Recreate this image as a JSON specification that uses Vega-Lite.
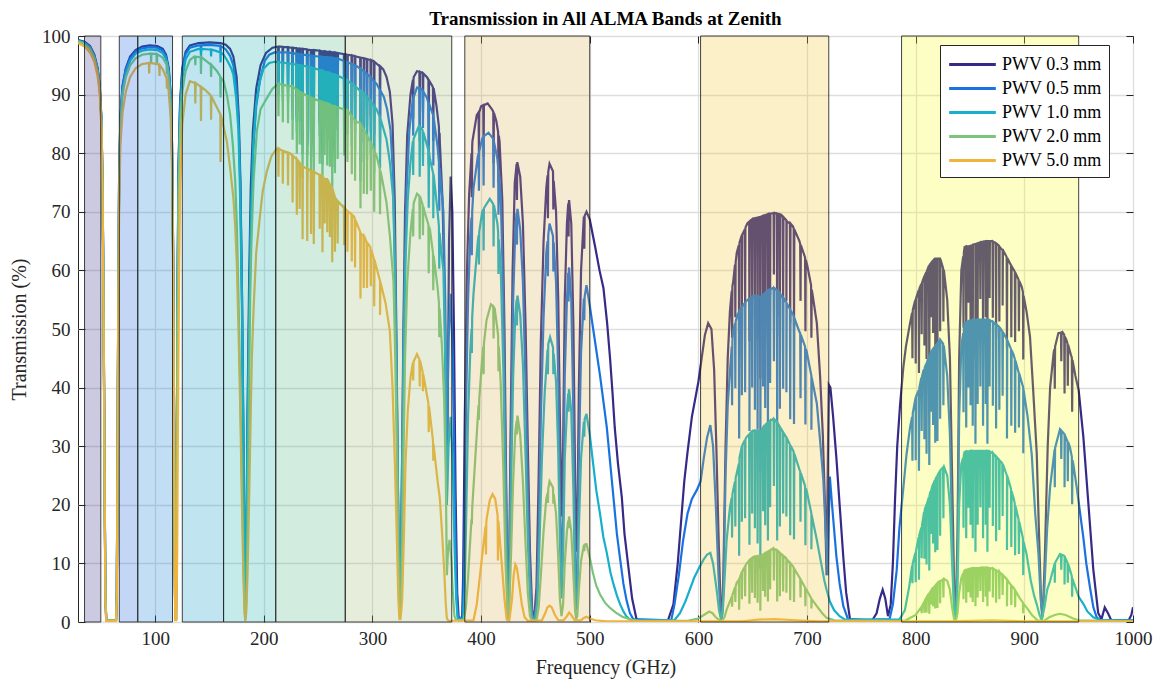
{
"$schema":"https://vega.github.io/schema/vega-lite/v6.json",
"width":1055,"height":586,
"autosize":{"type":"none"},
"padding":{"left":78,"top":36,"right":28,"bottom":63},
"title":{"text":"Transmission in All ALMA Bands at Zenith","font":"Liberation Serif","fontSize":19,"fontWeight":"bold","color":"black","offset":-2,"anchor":"middle"},
"config":{"view":{"stroke":"#262626","strokeWidth":1},"font":"Liberation Serif"},
"datasets":{
"bands":[{"b":"1","lo":35,"hi":50},{"b":"2","lo":67,"hi":84},{"b":"3","lo":84,"hi":116},{"b":"4","lo":125,"hi":163},{"b":"5","lo":163,"hi":211},{"b":"6","lo":211,"hi":275},{"b":"7","lo":275,"hi":373},{"b":"8","lo":385,"hi":500},{"b":"9","lo":602,"hi":720},{"b":"10","lo":787,"hi":950}],
"n03":[
{"f":29,"t":99.3},{"f":35,"t":99.0},{"f":40,"t":98.3},{"f":44,"t":96.8},{"f":47,"t":94.5},{"f":49,"t":91.5},{"f":50.5,"t":86},{"f":51.5,"t":76},{"f":52.3,"t":60},{"f":53,"t":40},{"f":53.7,"t":18},{"f":54.3,"t":4},{"f":55,"t":0.3},{"f":64,"t":0.3},{"f":64.7,"t":5},{"f":65.3,"t":25},{"f":66,"t":52},{"f":66.8,"t":75},{"f":68,"t":86},{"f":70,"t":91.5},{"f":73,"t":94.5},{"f":77,"t":96.5},{"f":82,"t":97.6},{"f":88,"t":98.2},{"f":95,"t":98.4},{"f":102,"t":98.3},{"f":107,"t":97.8},{"f":110,"t":96.8},{"f":112.5,"t":94.5},{"f":114.3,"t":90},{"f":115.5,"t":82},{"f":116.5,"t":65},{"f":117.3,"t":40},{"f":118,"t":12},{"f":118.5,"t":0.5},{"f":119.2,"t":0.5},{"f":119.8,"t":20},{"f":120.5,"t":55},{"f":121.5,"t":78},{"f":123,"t":89},{"f":125,"t":94.5},{"f":128,"t":97.3},{"f":132,"t":98.4},{"f":140,"t":98.8},{"f":150,"t":98.9},{"f":160,"t":98.8},{"f":165,"t":98.5},{"f":169,"t":97.8},{"f":172,"t":96.5},{"f":175,"t":93},{"f":177,"t":86},{"f":178.5,"t":75},{"f":180,"t":55},{"f":181.3,"t":30},{"f":182.3,"t":8},{"f":183,"t":1},{"f":183.8,"t":8},{"f":185,"t":35},{"f":186.5,"t":58},{"f":188,"t":74},{"f":190,"t":84},{"f":193,"t":91},{"f":197,"t":95},{"f":202,"t":97.1},{"f":208,"t":98},{"f":215,"t":98.2},{"f":225,"t":98.0},{"f":235,"t":97.8},{"f":245,"t":97.6},{"f":255,"t":97.4},{"f":265,"t":97.2},{"f":275,"t":96.9},{"f":285,"t":96.5},{"f":292,"t":96.2},{"f":300,"t":95.8},{"f":305,"t":95.1},{"f":310,"t":94.3},{"f":313,"t":93},{"f":316,"t":90.5},{"f":318.5,"t":85},{"f":320.5,"t":72},{"f":322,"t":50},{"f":323.5,"t":22},{"f":324.6,"t":4},{"f":325.2,"t":1},{"f":325.8,"t":4},{"f":327,"t":22},{"f":328.5,"t":50},{"f":330,"t":70},{"f":332,"t":83},{"f":335,"t":90},{"f":338,"t":93},{"f":341,"t":94},{"f":345,"t":93.8},{"f":350,"t":93},{"f":355,"t":91.5},{"f":359,"t":88},{"f":362,"t":82},{"f":364.5,"t":72},{"f":366.5,"t":55},{"f":367.8,"t":35},{"f":368.5,"t":20},{"f":369.2,"t":35},{"f":370.5,"t":65},{"f":372,"t":76},{"f":373.5,"t":70},{"f":375,"t":50},{"f":376.5,"t":22},{"f":378,"t":5},{"f":379.5,"t":0.3},{"f":382.5,"t":0.3},{"f":383.5,"t":8},{"f":385,"t":35},{"f":387,"t":60},{"f":389,"t":73},{"f":392,"t":82},{"f":396,"t":86.5},{"f":400,"t":88},{"f":406,"t":88.5},{"f":410,"t":87.5},{"f":414,"t":85.5},{"f":417,"t":82},{"f":419.5,"t":72},{"f":421.5,"t":50},{"f":423,"t":25},{"f":424.5,"t":3},{"f":425.5,"t":3},{"f":427,"t":30},{"f":429,"t":60},{"f":431,"t":75},{"f":433.5,"t":78.3},{"f":436,"t":76},{"f":438.5,"t":68},{"f":441,"t":50},{"f":443,"t":30},{"f":445,"t":12},{"f":447,"t":2},{"f":449,"t":1},{"f":451,"t":6},{"f":453,"t":25},{"f":455,"t":48},{"f":457.5,"t":65},{"f":460,"t":74},{"f":463,"t":78.2},{"f":466,"t":77},{"f":469,"t":70},{"f":471,"t":55},{"f":472.5,"t":35},{"f":474,"t":18},{"f":475.5,"t":30},{"f":477,"t":55},{"f":479,"t":68},{"f":481,"t":72},{"f":483,"t":68},{"f":485,"t":50},{"f":486.5,"t":25},{"f":487.5,"t":12},{"f":488.5,"t":15},{"f":490,"t":40},{"f":492,"t":60},{"f":494.5,"t":69},{"f":497,"t":70},{"f":500,"t":68.7},{"f":505,"t":64},{"f":509,"t":60},{"f":512.6,"t":57},{"f":516,"t":51},{"f":518.7,"t":45},{"f":521,"t":39},{"f":523,"t":33.2},{"f":526,"t":27},{"f":529.5,"t":21.3},{"f":532,"t":15},{"f":535.5,"t":9.5},{"f":539,"t":4},{"f":543,"t":0.5},{"f":547,"t":0.2},{"f":572,"t":0.3},{"f":577,"t":3},{"f":581,"t":10},{"f":584,"t":17},{"f":587,"t":24},{"f":590,"t":29},{"f":594,"t":35},{"f":598,"t":39},{"f":600,"t":41},{"f":603,"t":45},{"f":606,"t":49},{"f":609,"t":51},{"f":612,"t":50},{"f":614.5,"t":43},{"f":616.5,"t":30},{"f":618.5,"t":15},{"f":620.5,"t":2},{"f":621.5,"t":0.5},{"f":623,"t":8},{"f":625,"t":30},{"f":627,"t":45},{"f":629,"t":53},{"f":632,"t":58},{"f":635.3,"t":63},{"f":640,"t":66},{"f":645,"t":68},{"f":650,"t":68.8},{"f":655,"t":69},{"f":660,"t":69.3},{"f":665,"t":69.7},{"f":670,"t":69.8},{"f":676,"t":69.5},{"f":681,"t":68.5},{"f":687,"t":67.5},{"f":693,"t":65},{"f":700,"t":61},{"f":705,"t":56},{"f":709,"t":51},{"f":712,"t":42},{"f":714.5,"t":32},{"f":716.5,"t":20},{"f":718,"t":8},{"f":719,"t":25},{"f":720,"t":40.5},{"f":721.5,"t":40},{"f":724,"t":35},{"f":727,"t":28},{"f":730,"t":20},{"f":733.4,"t":11},{"f":736,"t":5},{"f":739.5,"t":0.5},{"f":760,"t":0.3},{"f":764,"t":1.5},{"f":767,"t":4},{"f":769.6,"t":5.5},{"f":772,"t":4},{"f":774.5,"t":1},{"f":777,"t":3},{"f":779,"t":10},{"f":781,"t":21},{"f":783,"t":30},{"f":785.6,"t":37},{"f":788.7,"t":43.6},{"f":791,"t":47},{"f":794.8,"t":51},{"f":799,"t":54.5},{"f":804,"t":57.2},{"f":808,"t":59},{"f":813,"t":61},{"f":818,"t":62},{"f":822.4,"t":62},{"f":826,"t":60},{"f":829,"t":55},{"f":831.5,"t":45},{"f":833.5,"t":25},{"f":835.5,"t":5},{"f":837,"t":2},{"f":838.5,"t":15},{"f":840,"t":45},{"f":842,"t":60},{"f":845,"t":64},{"f":850,"t":64.2},{"f":855,"t":64.5},{"f":860,"t":64.8},{"f":865,"t":65},{"f":870,"t":65},{"f":875,"t":64.5},{"f":880,"t":63.5},{"f":886.8,"t":61.2},{"f":892,"t":59.5},{"f":897.6,"t":57.2},{"f":902,"t":53},{"f":905.2,"t":48.7},{"f":908,"t":40},{"f":911.4,"t":28.8},{"f":913.5,"t":15},{"f":915.5,"t":3},{"f":917,"t":1},{"f":919,"t":12},{"f":921.5,"t":30},{"f":923.7,"t":40},{"f":927,"t":46},{"f":931.3,"t":49.3},{"f":935,"t":49.5},{"f":939,"t":48},{"f":943,"t":45.5},{"f":947,"t":42},{"f":950,"t":39.5},{"f":954.3,"t":31.6},{"f":958.9,"t":20.3},{"f":963.5,"t":8.9},{"f":968,"t":1.5},{"f":971,"t":0.5},{"f":974,"t":2.5},{"f":977,"t":1.5},{"f":980,"t":0.3},{"f":996,"t":0.3},{"f":998.5,"t":1.2},{"f":1000,"t":2.5},
{"f":213.2,"t":98.2},{"f":213.5,"t":92.3},{"f":213.8,"t":98.2},{"f":222,"t":98.1},{"f":222.3,"t":91.2},{"f":222.6,"t":98.1},{"f":230.1,"t":97.9},{"f":230.4,"t":86.2},{"f":230.7,"t":97.9},{"f":235.4,"t":97.8},{"f":235.7,"t":82.2},{"f":236,"t":97.8},{"f":239.7,"t":97.7},{"f":240,"t":82.1},{"f":240.3,"t":97.7},{"f":245.7,"t":97.6},{"f":246,"t":82},{"f":246.3,"t":97.6},{"f":253.7,"t":97.4},{"f":254,"t":80.8},{"f":254.3,"t":97.4},{"f":258.1,"t":97.3},{"f":258.4,"t":85.6},{"f":258.7,"t":97.3},{"f":262.7,"t":97.2},{"f":263,"t":80.7},{"f":263.3,"t":97.2},{"f":267.7,"t":97.1},{"f":268,"t":87.4},{"f":268.3,"t":97.1},{"f":273.7,"t":96.9},{"f":274,"t":88.2},{"f":274.3,"t":96.9},{"f":280.7,"t":96.7},{"f":281,"t":85.6},{"f":281.3,"t":96.7},{"f":288.7,"t":96.3},{"f":289,"t":79.9},{"f":289.3,"t":96.3},{"f":291.7,"t":96.2},{"f":292,"t":83.7},{"f":292.3,"t":96.2},{"f":301.3,"t":95.6},{"f":301.6,"t":83.2},{"f":301.9,"t":95.6},{"f":306.7,"t":94.8},{"f":307,"t":85.3},{"f":307.3,"t":94.8},
{"f":217.2,"t":98.15},{"f":217.5,"t":91.3},{"f":217.8,"t":98.15},{"f":226.2,"t":98},{"f":226.5,"t":88.2},{"f":226.8,"t":98},{"f":232.7,"t":97.85},{"f":233,"t":88.1},{"f":233.3,"t":97.85},{"f":243.2,"t":97.6},{"f":243.5,"t":83.9},{"f":243.8,"t":97.6},{"f":251.2,"t":97.5},{"f":251.5,"t":85.8},{"f":251.8,"t":97.5},{"f":255.7,"t":97.4},{"f":256,"t":87.7},{"f":256.3,"t":97.4},{"f":260.5,"t":97.3},{"f":260.8,"t":85.6},{"f":261.1,"t":97.3},{"f":265.2,"t":97.2},{"f":265.5,"t":84.6},{"f":265.8,"t":97.2},{"f":276.7,"t":96.8},{"f":277,"t":87.1},{"f":277.3,"t":96.8},{"f":283.7,"t":96.55},{"f":284,"t":85},{"f":284.3,"t":96.55},{"f":294.7,"t":96.05},{"f":295,"t":84.5},{"f":295.3,"t":96.05},{"f":298.2,"t":95.9},{"f":298.5,"t":86.3},{"f":298.8,"t":95.9},
{"f":337.2,"t":92.5},{"f":337.5,"t":86},{"f":337.8,"t":92.6},{"f":343.2,"t":93.9},{"f":343.5,"t":84.5},{"f":343.8,"t":93.9},{"f":346.2,"t":93.6},{"f":346.5,"t":87},{"f":346.8,"t":93.6},{"f":351.5,"t":92.5},{"f":351.8,"t":81.4},{"f":352.1,"t":92.4},{"f":355.7,"t":91.2},{"f":356,"t":82.1},{"f":356.3,"t":91.1},{"f":361.2,"t":84.5},{"f":361.5,"t":75.6},{"f":361.8,"t":83.5},
{"f":391.2,"t":80},{"f":391.5,"t":72.5},{"f":391.8,"t":81},{"f":397.7,"t":87},{"f":398,"t":80},{"f":398.3,"t":87},{"f":402,"t":88.2},{"f":402.3,"t":79.4},{"f":402.6,"t":88.2},{"f":411.2,"t":87.1},{"f":411.5,"t":78.3},{"f":411.8,"t":86.9},{"f":415.7,"t":83.6},{"f":416,"t":75},{"f":416.3,"t":83},{"f":432.7,"t":78.2},{"f":433,"t":72},{"f":433.3,"t":78.3},{"f":461.2,"t":76.2},{"f":461.5,"t":68.9},{"f":461.8,"t":76.8},{"f":466.2,"t":76.8},{"f":466.5,"t":70.4},{"f":466.8,"t":75.3},{"f":480.2,"t":71.4},{"f":480.5,"t":65.8},{"f":480.8,"t":71.6},{"f":494.7,"t":69},{"f":495,"t":63.7},{"f":495.3,"t":69.3},
{"f":630.7,"t":56.5},{"f":631,"t":48.5},{"f":631.3,"t":57.3},{"f":637.2,"t":64.3},{"f":637.5,"t":45.2},{"f":637.8,"t":64.7},{"f":642.7,"t":67},{"f":643,"t":53.8},{"f":643.3,"t":67.3},{"f":646.7,"t":68.3},{"f":647,"t":47.9},{"f":647.3,"t":68.4},{"f":651.7,"t":68.9},{"f":652,"t":51.7},{"f":652.3,"t":68.9},{"f":656.7,"t":69.1},{"f":657,"t":41.5},{"f":657.3,"t":69.1},{"f":661.2,"t":69.4},{"f":661.5,"t":52},{"f":661.8,"t":69.4},{"f":665.7,"t":69.7},{"f":666,"t":55.8},{"f":666.3,"t":69.7},{"f":672.2,"t":69.7},{"f":672.5,"t":48.8},{"f":672.8,"t":69.7},{"f":677.7,"t":69.1},{"f":678,"t":55.3},{"f":678.3,"t":69.1},{"f":684.2,"t":68},{"f":684.5,"t":51},{"f":684.8,"t":68},{"f":693.7,"t":64.5},{"f":694,"t":54.8},{"f":694.3,"t":64.3},{"f":703.7,"t":57.5},{"f":704,"t":48.5},{"f":704.3,"t":56.7},
{"f":633.7,"t":61},{"f":634,"t":52},{"f":634.3,"t":61.4},{"f":639.7,"t":65.9},{"f":640,"t":52.8},{"f":640.3,"t":66.1},{"f":649.2,"t":68.7},{"f":649.5,"t":55},{"f":649.8,"t":68.7},{"f":654.2,"t":69},{"f":654.5,"t":48.3},{"f":654.8,"t":69},{"f":659.2,"t":69.3},{"f":659.5,"t":55.4},{"f":659.8,"t":69.3},{"f":663.7,"t":69.6},{"f":664,"t":48.7},{"f":664.3,"t":69.6},{"f":669.2,"t":69.8},{"f":669.5,"t":59.3},{"f":669.8,"t":69.8},{"f":674.7,"t":69.55},{"f":675,"t":52.2},{"f":675.3,"t":69.55},{"f":680.7,"t":68.6},{"f":681,"t":54.8},{"f":681.3,"t":68.4},{"f":687.7,"t":67.2},{"f":688,"t":50.3},{"f":688.3,"t":67},{"f":698.2,"t":62.2},{"f":698.5,"t":49.6},{"f":698.8,"t":61.8},
{"f":796.7,"t":52.8},{"f":797,"t":45},{"f":797.3,"t":53.2},{"f":802.7,"t":56.6},{"f":803,"t":42.5},{"f":803.3,"t":56.8},{"f":807.7,"t":58.9},{"f":808,"t":47.2},{"f":808.3,"t":59.1},{"f":812.2,"t":60.8},{"f":812.5,"t":42.6},{"f":812.8,"t":60.9},{"f":815.7,"t":61.6},{"f":816,"t":49.3},{"f":816.3,"t":61.7},{"f":819.7,"t":62},{"f":820,"t":46.5},{"f":820.3,"t":62},{"f":825.2,"t":60.4},{"f":825.5,"t":51.3},{"f":825.8,"t":60.1},{"f":846.2,"t":64.1},{"f":846.5,"t":48.1},{"f":846.8,"t":64.1},{"f":850.2,"t":64.2},{"f":850.5,"t":51.4},{"f":850.8,"t":64.2},{"f":854.7,"t":64.5},{"f":855,"t":45.2},{"f":855.3,"t":64.5},{"f":859.2,"t":64.8},{"f":859.5,"t":55.1},{"f":859.8,"t":64.8},{"f":861.7,"t":64.9},{"f":862,"t":48.7},{"f":862.3,"t":64.9},{"f":867.7,"t":65},{"f":868,"t":55.3},{"f":868.3,"t":65},{"f":873.7,"t":64.6},{"f":874,"t":48.5},{"f":874.3,"t":64.6},{"f":879.7,"t":63.5},{"f":880,"t":54},{"f":880.3,"t":63.5},{"f":887.7,"t":60.9},{"f":888,"t":48.6},{"f":888.3,"t":60.7},{"f":894.7,"t":58.4},{"f":895,"t":49.6},{"f":895.3,"t":58.2},{"f":933.7,"t":49.4},{"f":934,"t":44.5},{"f":934.3,"t":49.4},{"f":939.7,"t":47.5},{"f":940,"t":40.3},{"f":940.3,"t":47.3},
{"f":799.7,"t":55},{"f":800,"t":44.1},{"f":800.3,"t":55.2},{"f":805.2,"t":57.7},{"f":805.5,"t":49.1},{"f":805.8,"t":57.9},{"f":809.7,"t":59.7},{"f":810,"t":44.9},{"f":810.3,"t":59.9},{"f":813.7,"t":61.1},{"f":814,"t":52},{"f":814.3,"t":61.3},{"f":817.7,"t":62},{"f":818,"t":46.5},{"f":818.3,"t":62},{"f":822.2,"t":62},{"f":822.5,"t":49.6},{"f":822.8,"t":61.9},{"f":843.7,"t":62.4},{"f":844,"t":50.2},{"f":844.3,"t":63},{"f":848.2,"t":64.1},{"f":848.5,"t":54.5},{"f":848.8,"t":64.1},{"f":852.2,"t":64.3},{"f":852.5,"t":48.3},{"f":852.8,"t":64.4},{"f":856.7,"t":64.6},{"f":857,"t":51.7},{"f":857.3,"t":64.6},{"f":864.2,"t":65},{"f":864.5,"t":52},{"f":864.8,"t":65},{"f":865.7,"t":65},{"f":866,"t":45.5},{"f":866.3,"t":65},{"f":870.7,"t":64.9},{"f":871,"t":51.9},{"f":871.3,"t":64.9},{"f":876.7,"t":64.2},{"f":877,"t":51.3},{"f":877.3,"t":64},{"f":883.7,"t":62.3},{"f":884,"t":46.7},{"f":884.3,"t":62.1},{"f":891.2,"t":59.8},{"f":891.5,"t":47.8},{"f":891.8,"t":59.6},{"f":898.7,"t":56.3},{"f":899,"t":44.8},{"f":899.3,"t":55.7},{"f":927.7,"t":46.6},{"f":928,"t":39.8},{"f":928.3,"t":47},{"f":936.7,"t":49},{"f":937,"t":39},{"f":937.3,"t":48.7},{"f":943.7,"t":45.1},{"f":944,"t":35.9},{"f":944.3,"t":44.7}
],
"n05":[
{"f":29,"t":99.3},{"f":35,"t":98.9},{"f":40,"t":98.2},{"f":44,"t":96.7},{"f":47,"t":94.4},{"f":49,"t":91.4},{"f":50.5,"t":86},{"f":51.5,"t":76},{"f":52.3,"t":60},{"f":53,"t":40},{"f":53.7,"t":18},{"f":54.3,"t":4},{"f":55,"t":0.3},{"f":64,"t":0.3},{"f":64.7,"t":5},{"f":65.3,"t":25},{"f":66,"t":52},{"f":66.8,"t":75},{"f":68,"t":86},{"f":70,"t":91.3},{"f":73,"t":94.3},{"f":77,"t":96.2},{"f":82,"t":97.4},{"f":88,"t":97.9},{"f":95,"t":98.1},{"f":102,"t":98},{"f":107,"t":97.5},{"f":110,"t":96.5},{"f":112.5,"t":94.2},{"f":114.3,"t":89.7},{"f":115.5,"t":81.5},{"f":116.5,"t":64},{"f":117.3,"t":39},{"f":118,"t":12},{"f":118.5,"t":0.5},{"f":119.2,"t":0.5},{"f":119.8,"t":20},{"f":120.5,"t":54},{"f":121.5,"t":77},{"f":123,"t":88.5},{"f":125,"t":94},{"f":128,"t":96.9},{"f":132,"t":98},{"f":140,"t":98.4},{"f":150,"t":98.5},{"f":160,"t":98.3},{"f":165,"t":97.7},{"f":169,"t":96.6},{"f":172,"t":95},{"f":174.5,"t":91.5},{"f":176.7,"t":86},{"f":178.3,"t":75},{"f":179.8,"t":58},{"f":181.2,"t":32},{"f":182.3,"t":10},{"f":183,"t":1},{"f":183.8,"t":10},{"f":185,"t":32},{"f":186.5,"t":53},{"f":188,"t":69},{"f":190,"t":80},{"f":193,"t":88},{"f":197,"t":93},{"f":201,"t":95.8},{"f":205,"t":96.8},{"f":210,"t":97.2},{"f":220,"t":97.2},{"f":236,"t":96.8},{"f":250,"t":96.5},{"f":267,"t":96.2},{"f":276,"t":95.6},{"f":286,"t":94.8},{"f":292,"t":94},{"f":298,"t":93},{"f":304,"t":91.8},{"f":310.5,"t":89.6},{"f":313.5,"t":87.5},{"f":316.6,"t":84},{"f":319,"t":76},{"f":321,"t":58},{"f":322.5,"t":38},{"f":324,"t":14},{"f":325.2,"t":2},{"f":326.4,"t":14},{"f":328,"t":38},{"f":329.5,"t":58},{"f":331.5,"t":74},{"f":334,"t":84},{"f":337,"t":89},{"f":341,"t":91.2},{"f":345,"t":91},{"f":350,"t":89.5},{"f":356,"t":86.5},{"f":360,"t":81},{"f":363,"t":75},{"f":365.3,"t":70},{"f":367,"t":55},{"f":368.5,"t":30},{"f":370,"t":48},{"f":372,"t":56},{"f":374,"t":45},{"f":375.5,"t":25},{"f":377,"t":8},{"f":378.5,"t":1},{"f":383,"t":0.5},{"f":384.5,"t":10},{"f":386,"t":35},{"f":388,"t":55},{"f":390,"t":66},{"f":393,"t":74},{"f":397,"t":79.5},{"f":401,"t":82.5},{"f":406.8,"t":83.5},{"f":411,"t":82.5},{"f":415,"t":79},{"f":418,"t":73},{"f":420.5,"t":55},{"f":422.5,"t":28},{"f":424.5,"t":2},{"f":425.5,"t":2},{"f":427.5,"t":30},{"f":429.5,"t":55},{"f":431.5,"t":67},{"f":433.5,"t":70.5},{"f":436,"t":67},{"f":438.5,"t":58},{"f":441,"t":40},{"f":443,"t":22},{"f":445,"t":8},{"f":447,"t":1},{"f":449,"t":0.5},{"f":451,"t":3},{"f":453,"t":15},{"f":455,"t":35},{"f":457.5,"t":52},{"f":460,"t":63},{"f":463,"t":68},{"f":466,"t":66},{"f":469,"t":58},{"f":471,"t":42},{"f":472.5,"t":22},{"f":474,"t":8},{"f":475.5,"t":18},{"f":477,"t":42},{"f":479,"t":55},{"f":481,"t":60.5},{"f":483,"t":55},{"f":485,"t":35},{"f":486.5,"t":12},{"f":487.5,"t":4},{"f":488.5,"t":6},{"f":490,"t":28},{"f":492,"t":46},{"f":494.5,"t":55},{"f":497,"t":57.5},{"f":500,"t":54},{"f":503.4,"t":49.7},{"f":509.5,"t":42},{"f":515.7,"t":33.2},{"f":521.8,"t":21.3},{"f":525,"t":15},{"f":528,"t":10.7},{"f":531,"t":6.5},{"f":534,"t":3.6},{"f":537,"t":1.5},{"f":540,"t":0.5},{"f":575,"t":0.3},{"f":578,"t":3},{"f":582,"t":8},{"f":586,"t":14},{"f":590,"t":18.5},{"f":594,"t":21},{"f":598.5,"t":22.5},{"f":602,"t":24},{"f":605,"t":28},{"f":608,"t":31.5},{"f":611,"t":33.6},{"f":613.5,"t":30},{"f":616,"t":20},{"f":618.5,"t":8},{"f":620.5,"t":1},{"f":621.7,"t":0.5},{"f":623,"t":5},{"f":625,"t":25},{"f":627,"t":37},{"f":629.5,"t":44},{"f":632,"t":49.7},{"f":636,"t":52.5},{"f":641.4,"t":54.2},{"f":647,"t":55.2},{"f":652,"t":55.7},{"f":657,"t":55.5},{"f":662,"t":56.2},{"f":669,"t":57.1},{"f":675,"t":56},{"f":681,"t":54.5},{"f":687,"t":52.5},{"f":693,"t":49.5},{"f":699.5,"t":46.3},{"f":704,"t":42},{"f":709,"t":37.3},{"f":712,"t":31},{"f":715,"t":24.2},{"f":717.5,"t":14},{"f":719,"t":8},{"f":720,"t":18},{"f":721,"t":24.8},{"f":723,"t":20},{"f":727,"t":11.2},{"f":730,"t":6.5},{"f":733.4,"t":2.7},{"f":738,"t":0.3},{"f":776,"t":0.5},{"f":779,"t":3},{"f":782.5,"t":8.8},{"f":785,"t":16},{"f":788.7,"t":23},{"f":791.5,"t":28.5},{"f":794.8,"t":33.2},{"f":800,"t":38.3},{"f":807,"t":42.8},{"f":814,"t":46},{"f":822.4,"t":48.2},{"f":826,"t":47},{"f":829,"t":42},{"f":831.5,"t":32},{"f":833.5,"t":15},{"f":835.5,"t":2},{"f":837,"t":1},{"f":838.5,"t":10},{"f":840,"t":35},{"f":842,"t":47},{"f":845,"t":51},{"f":853,"t":51.6},{"f":865.3,"t":51.6},{"f":871,"t":51.2},{"f":877.6,"t":50.2},{"f":884,"t":48.2},{"f":889.9,"t":45.7},{"f":895,"t":42.5},{"f":899,"t":40},{"f":903,"t":35},{"f":906.8,"t":28.6},{"f":910,"t":18.5},{"f":913,"t":11.6},{"f":915,"t":4},{"f":916.5,"t":0.8},{"f":918.5,"t":6},{"f":921,"t":16},{"f":923.7,"t":23},{"f":928,"t":29.5},{"f":932.8,"t":32.9},{"f":937,"t":32},{"f":942,"t":29.8},{"f":945,"t":27},{"f":948.2,"t":23},{"f":951,"t":19},{"f":954.3,"t":14.4},{"f":957,"t":10},{"f":960.4,"t":5.9},{"f":963.5,"t":2.5},{"f":966.6,"t":0.8},{"f":970,"t":0.3},{"f":1000,"t":0.3},
{"f":141.9,"t":98.4},{"f":142.2,"t":97.3},{"f":142.5,"t":98.4},{"f":159.9,"t":98.3},{"f":160.2,"t":97.2},{"f":160.5,"t":98.3},
{"f":213.2,"t":97.2},{"f":213.5,"t":91.4},{"f":213.8,"t":97.2},{"f":222,"t":97.2},{"f":222.3,"t":90.4},{"f":222.6,"t":97.2},{"f":230.1,"t":97},{"f":230.4,"t":85.4},{"f":230.7,"t":97},{"f":235.4,"t":96.8},{"f":235.7,"t":81.3},{"f":236,"t":96.8},{"f":239.7,"t":96.75},{"f":240,"t":81.3},{"f":240.3,"t":96.75},{"f":245.7,"t":96.6},{"f":246,"t":81.1},{"f":246.3,"t":96.6},{"f":253.7,"t":96.45},{"f":254,"t":80.1},{"f":254.3,"t":96.45},{"f":258.1,"t":96.4},{"f":258.4,"t":84.8},{"f":258.7,"t":96.4},{"f":262.7,"t":96.3},{"f":263,"t":79.9},{"f":263.3,"t":96.3},{"f":267.7,"t":96.15},{"f":268,"t":86.5},{"f":268.3,"t":96.15},{"f":273.7,"t":95.75},{"f":274,"t":87.1},{"f":274.3,"t":95.7},{"f":280.7,"t":95.2},{"f":281,"t":84.3},{"f":281.3,"t":95.2},{"f":288.7,"t":94.4},{"f":289,"t":78.4},{"f":289.3,"t":94.4},{"f":291.7,"t":94},{"f":292,"t":81.8},{"f":292.3,"t":94},{"f":301.3,"t":92.3},{"f":301.6,"t":80.3},{"f":301.9,"t":92.2},{"f":306.7,"t":90.8},{"f":307,"t":81.7},{"f":307.3,"t":90.7},
{"f":217.2,"t":97.2},{"f":217.5,"t":90.4},{"f":217.8,"t":97.2},{"f":226.2,"t":97.05},{"f":226.5,"t":87.3},{"f":226.8,"t":97.05},{"f":232.7,"t":96.9},{"f":233,"t":87.2},{"f":233.3,"t":96.9},{"f":243.2,"t":96.65},{"f":243.5,"t":83.1},{"f":243.8,"t":96.65},{"f":251.2,"t":96.5},{"f":251.5,"t":84.9},{"f":251.8,"t":96.5},{"f":255.7,"t":96.4},{"f":256,"t":86.8},{"f":256.3,"t":96.4},{"f":260.5,"t":96.35},{"f":260.8,"t":84.8},{"f":261.1,"t":96.35},{"f":265.2,"t":96.2},{"f":265.5,"t":83.7},{"f":265.8,"t":96.2},{"f":276.7,"t":95.5},{"f":277,"t":86},{"f":277.3,"t":95.5},{"f":283.7,"t":94.95},{"f":284,"t":83.6},{"f":284.3,"t":94.95},{"f":294.7,"t":93.5},{"f":295,"t":82.3},{"f":295.3,"t":93.5},{"f":298.2,"t":92.9},{"f":298.5,"t":83.6},{"f":298.8,"t":92.9},
{"f":337.2,"t":89.2},{"f":337.5,"t":83},{"f":337.8,"t":89.5},{"f":343.2,"t":91.1},{"f":343.5,"t":82},{"f":343.8,"t":91.1},{"f":346.2,"t":90.6},{"f":346.5,"t":84.3},{"f":346.8,"t":90.5},{"f":351.5,"t":88.6},{"f":351.8,"t":78},{"f":352.1,"t":88.5},{"f":355.7,"t":86.6},{"f":356,"t":77.9},{"f":356.3,"t":86.2},{"f":361.2,"t":78.5},{"f":361.5,"t":70.2},{"f":361.8,"t":77.5},
{"f":391.2,"t":69},{"f":391.5,"t":62.6},{"f":391.8,"t":70},{"f":397.7,"t":80},{"f":398,"t":73.6},{"f":398.3,"t":80.3},{"f":402,"t":82.8},{"f":402.3,"t":74.5},{"f":402.6,"t":82.9},{"f":411.2,"t":82.3},{"f":411.5,"t":74.1},{"f":411.8,"t":82},{"f":415.7,"t":77.6},{"f":416,"t":69.5},{"f":416.3,"t":76.6},{"f":432.7,"t":69.9},{"f":433,"t":64.4},{"f":433.3,"t":70.3},{"f":461.2,"t":65},{"f":461.5,"t":59},{"f":461.8,"t":66},{"f":466.2,"t":65.8},{"f":466.5,"t":59.8},{"f":466.8,"t":64.8},{"f":480.2,"t":59.6},{"f":480.5,"t":54.7},{"f":480.8,"t":60.3},{"f":494.7,"t":55},{"f":495,"t":51.5},{"f":495.3,"t":55.5},
{"f":630.7,"t":47},{"f":631,"t":37},{"f":631.3,"t":48},{"f":637.2,"t":52.8},{"f":637.5,"t":31.3},{"f":637.8,"t":53.2},{"f":642.7,"t":54.4},{"f":643,"t":39.2},{"f":643.3,"t":54.6},{"f":646.7,"t":55.2},{"f":647,"t":32.6},{"f":647.3,"t":55.2},{"f":651.7,"t":55.7},{"f":652,"t":36.2},{"f":652.3,"t":55.7},{"f":656.7,"t":55.5},{"f":657,"t":25.5},{"f":657.3,"t":55.5},{"f":661.2,"t":56.1},{"f":661.5,"t":36.5},{"f":661.8,"t":56.2},{"f":665.7,"t":56.7},{"f":666,"t":40.8},{"f":666.3,"t":56.7},{"f":672.2,"t":56.6},{"f":672.5,"t":33.3},{"f":672.8,"t":56.5},{"f":677.7,"t":55.3},{"f":678,"t":39.8},{"f":678.3,"t":55.3},{"f":684.2,"t":53.4},{"f":684.5,"t":34.6},{"f":684.8,"t":53.2},{"f":693.7,"t":49.3},{"f":694,"t":38.2},{"f":694.3,"t":49},{"f":703.7,"t":42.3},{"f":704,"t":32.8},{"f":704.3,"t":41.7},
{"f":633.7,"t":51},{"f":634,"t":39.9},{"f":634.3,"t":51.3},{"f":639.7,"t":53.6},{"f":640,"t":38.7},{"f":640.3,"t":53.8},{"f":649.2,"t":55.5},{"f":649.5,"t":40},{"f":649.8,"t":55.5},{"f":654.2,"t":55.6},{"f":654.5,"t":32.8},{"f":654.8,"t":55.6},{"f":659.2,"t":55.8},{"f":659.5,"t":40.2},{"f":659.8,"t":55.8},{"f":663.7,"t":56.5},{"f":664,"t":33.3},{"f":664.3,"t":56.5},{"f":669.2,"t":57},{"f":669.5,"t":44.5},{"f":669.8,"t":57},{"f":674.7,"t":56},{"f":675,"t":36.4},{"f":675.3,"t":56},{"f":680.7,"t":54.6},{"f":681,"t":39.2},{"f":681.3,"t":54.4},{"f":687.7,"t":52.2},{"f":688,"t":33.8},{"f":688.3,"t":51.9},{"f":698.2,"t":47},{"f":698.5,"t":33.7},{"f":698.8,"t":46.6},
{"f":796.7,"t":35},{"f":797,"t":27.5},{"f":797.3,"t":35.6},{"f":802.7,"t":39.5},{"f":803,"t":25.8},{"f":803.3,"t":39.9},{"f":807.7,"t":43.1},{"f":808,"t":31.2},{"f":808.3,"t":43.4},{"f":812.2,"t":45.3},{"f":812.5,"t":26.8},{"f":812.8,"t":45.5},{"f":815.7,"t":46.5},{"f":816,"t":33.6},{"f":816.3,"t":46.7},{"f":819.7,"t":47.5},{"f":820,"t":30.9},{"f":820.3,"t":47.6},{"f":825.2,"t":47.5},{"f":825.5,"t":37},{"f":825.8,"t":47.2},{"f":846.2,"t":51.1},{"f":846.5,"t":33.2},{"f":846.8,"t":51.1},{"f":850.2,"t":51.4},{"f":850.5,"t":37},{"f":850.8,"t":51.4},{"f":854.7,"t":51.6},{"f":855,"t":30.4},{"f":855.3,"t":51.6},{"f":859.2,"t":51.6},{"f":859.5,"t":40.2},{"f":859.8,"t":51.6},{"f":861.7,"t":51.6},{"f":862,"t":33.5},{"f":862.3,"t":51.6},{"f":867.7,"t":51.5},{"f":868,"t":40.2},{"f":868.3,"t":51.5},{"f":873.7,"t":50.8},{"f":874,"t":33},{"f":874.3,"t":50.8},{"f":879.7,"t":49.6},{"f":880,"t":38.6},{"f":880.3,"t":49.5},{"f":887.7,"t":46.6},{"f":888,"t":33.5},{"f":888.3,"t":46.4},{"f":894.7,"t":42.6},{"f":895,"t":33.2},{"f":895.3,"t":42.4},{"f":933.7,"t":32.7},{"f":934,"t":27.8},{"f":934.3,"t":32.6},{"f":939.7,"t":30.8},{"f":940,"t":24},{"f":940.3,"t":30.7},
{"f":799.7,"t":38.1},{"f":800,"t":27.6},{"f":800.3,"t":38.5},{"f":805.2,"t":41.7},{"f":805.5,"t":32.6},{"f":805.8,"t":41.9},{"f":809.7,"t":44.1},{"f":810,"t":28.7},{"f":810.3,"t":44.3},{"f":813.7,"t":45.9},{"f":814,"t":35.9},{"f":814.3,"t":46.1},{"f":817.7,"t":47},{"f":818,"t":30.6},{"f":818.3,"t":47.2},{"f":822.2,"t":48.2},{"f":822.5,"t":34.7},{"f":822.8,"t":48.1},{"f":843.7,"t":49.3},{"f":844,"t":35.8},{"f":844.3,"t":50},{"f":848.2,"t":51.3},{"f":848.5,"t":40},{"f":848.8,"t":51.3},{"f":852.2,"t":51.6},{"f":852.5,"t":33.5},{"f":852.8,"t":51.6},{"f":856.7,"t":51.6},{"f":857,"t":37.2},{"f":857.3,"t":51.6},{"f":864.2,"t":51.6},{"f":864.5,"t":37.2},{"f":864.8,"t":51.6},{"f":865.7,"t":51.6},{"f":866,"t":30.4},{"f":866.3,"t":51.6},{"f":870.7,"t":51.2},{"f":871,"t":36.9},{"f":871.3,"t":51.2},{"f":876.7,"t":50.4},{"f":877,"t":36.2},{"f":877.3,"t":50.2},{"f":883.7,"t":48.3},{"f":884,"t":31.3},{"f":884.3,"t":48.1},{"f":891.2,"t":44.9},{"f":891.5,"t":32.3},{"f":891.8,"t":44.6},{"f":898.7,"t":40.2},{"f":899,"t":28.8},{"f":899.3,"t":39.6},{"f":927.7,"t":29.2},{"f":928,"t":23},{"f":928.3,"t":29.7},{"f":936.7,"t":32.1},{"f":937,"t":23},{"f":937.3,"t":31.9},{"f":943.7,"t":28.2},{"f":944,"t":20.1},{"f":944.3,"t":27.6}
],
"n10":[
{"f":29,"t":99.2},{"f":35,"t":98.8},{"f":40,"t":98.1},{"f":44,"t":96.6},{"f":47,"t":94.3},{"f":49,"t":91.3},{"f":50.5,"t":86},{"f":51.5,"t":76},{"f":52.3,"t":60},{"f":53,"t":40},{"f":53.7,"t":18},{"f":54.3,"t":4},{"f":55,"t":0.3},{"f":64,"t":0.3},{"f":64.7,"t":5},{"f":65.3,"t":25},{"f":66,"t":52},{"f":66.8,"t":74},{"f":68,"t":85.5},{"f":70,"t":90.8},{"f":73,"t":93.8},{"f":77,"t":95.8},{"f":82,"t":97},{"f":88,"t":97.5},{"f":95,"t":97.7},{"f":102,"t":97.6},{"f":107,"t":97.1},{"f":110,"t":96.1},{"f":112.5,"t":93.8},{"f":114.3,"t":89.3},{"f":115.5,"t":81},{"f":116.5,"t":63.5},{"f":117.3,"t":38.5},{"f":118,"t":12},{"f":118.5,"t":0.5},{"f":119.2,"t":0.5},{"f":119.8,"t":19},{"f":120.5,"t":52},{"f":121.5,"t":75},{"f":123,"t":87},{"f":125,"t":92.8},{"f":128,"t":96},{"f":132,"t":97.3},{"f":140,"t":97.8},{"f":150,"t":97.7},{"f":160,"t":97.2},{"f":163,"t":96.8},{"f":167,"t":95.6},{"f":170,"t":94.5},{"f":172,"t":93.4},{"f":174.5,"t":89.5},{"f":176.7,"t":83.8},{"f":178.3,"t":72},{"f":179.8,"t":55},{"f":181.2,"t":30},{"f":182.3,"t":9},{"f":183,"t":1},{"f":183.8,"t":10},{"f":185,"t":30},{"f":186.5,"t":50},{"f":188,"t":66},{"f":190.5,"t":82},{"f":193,"t":88.5},{"f":196,"t":92},{"f":199.7,"t":94.4},{"f":205,"t":95.4},{"f":210,"t":95.6},{"f":224,"t":95.3},{"f":240,"t":94.8},{"f":252,"t":94.2},{"f":265,"t":93.4},{"f":276,"t":92.5},{"f":284,"t":91.4},{"f":292,"t":90.2},{"f":298,"t":88.9},{"f":304,"t":87.4},{"f":308,"t":85.5},{"f":313,"t":82.3},{"f":316,"t":78.5},{"f":319,"t":72.6},{"f":320.5,"t":62},{"f":322,"t":45},{"f":323.5,"t":22},{"f":324.6,"t":5},{"f":325.3,"t":1.5},{"f":326,"t":5},{"f":327.2,"t":22},{"f":328.7,"t":45},{"f":330.5,"t":62},{"f":332.5,"t":72},{"f":335,"t":78.5},{"f":338,"t":82.5},{"f":342.6,"t":84.6},{"f":346,"t":84},{"f":350,"t":81.5},{"f":353,"t":79},{"f":356,"t":76.5},{"f":360,"t":70},{"f":363,"t":64},{"f":365.3,"t":60},{"f":367,"t":45},{"f":368.5,"t":20},{"f":370,"t":30},{"f":372,"t":35},{"f":374,"t":27},{"f":375.5,"t":13},{"f":377,"t":4},{"f":378.5,"t":0.5},{"f":383.5,"t":0.5},{"f":385,"t":6},{"f":386.5,"t":20},{"f":388,"t":35},{"f":390,"t":46},{"f":393,"t":56},{"f":397,"t":65},{"f":401,"t":70},{"f":408,"t":72.2},{"f":412,"t":71},{"f":415,"t":68},{"f":418,"t":61},{"f":420.5,"t":43},{"f":422.5,"t":20},{"f":424.5,"t":1},{"f":425.5,"t":1},{"f":427.5,"t":22},{"f":429.5,"t":42},{"f":431.5,"t":52.5},{"f":433.5,"t":55.7},{"f":436,"t":52.5},{"f":438.5,"t":44},{"f":441,"t":28},{"f":443,"t":14},{"f":445,"t":4},{"f":447,"t":0.5},{"f":450,"t":0.5},{"f":452,"t":4},{"f":454,"t":15},{"f":456,"t":28},{"f":458.5,"t":39},{"f":461,"t":46},{"f":463.5,"t":48.6},{"f":466,"t":47},{"f":469,"t":41},{"f":471,"t":29},{"f":472.5,"t":14},{"f":474,"t":4},{"f":475.5,"t":11},{"f":477,"t":28},{"f":479,"t":36},{"f":481,"t":39.7},{"f":483,"t":36},{"f":485,"t":22},{"f":486.5,"t":6},{"f":487.5,"t":2},{"f":488.5,"t":3},{"f":490,"t":16},{"f":492,"t":28},{"f":494.5,"t":34},{"f":497,"t":35.5},{"f":500,"t":32},{"f":503,"t":27.2},{"f":506,"t":22.5},{"f":509.5,"t":18.4},{"f":512.5,"t":14.5},{"f":515.7,"t":11.8},{"f":519,"t":8.5},{"f":521.8,"t":6.5},{"f":525,"t":4.5},{"f":528,"t":3},{"f":531,"t":1.8},{"f":534,"t":0.9},{"f":538,"t":0.3},{"f":578,"t":0.3},{"f":583,"t":1.5},{"f":588,"t":3.5},{"f":592,"t":5.5},{"f":596,"t":7.5},{"f":600,"t":9},{"f":604.6,"t":10.6},{"f":608,"t":11.5},{"f":611,"t":11.8},{"f":613.5,"t":10},{"f":616.8,"t":5.5},{"f":619,"t":2},{"f":621,"t":0.3},{"f":622.5,"t":2},{"f":624,"t":7},{"f":626,"t":14},{"f":629,"t":19.5},{"f":632,"t":22.5},{"f":635.3,"t":25.4},{"f":640,"t":30},{"f":644.5,"t":31.6},{"f":648,"t":32.3},{"f":652,"t":32.7},{"f":656.8,"t":32.5},{"f":660,"t":33.3},{"f":663,"t":33.9},{"f":669,"t":34.7},{"f":675,"t":33.3},{"f":681,"t":31.5},{"f":687,"t":29.3},{"f":693,"t":26},{"f":699.5,"t":22.5},{"f":704,"t":18.5},{"f":709,"t":14},{"f":713,"t":10},{"f":716,"t":7},{"f":718,"t":5.5},{"f":721,"t":3.5},{"f":725,"t":2},{"f":730,"t":1},{"f":735,"t":0.4},{"f":785,"t":0.4},{"f":790,"t":2},{"f":794,"t":6},{"f":797.9,"t":10.5},{"f":803,"t":14.5},{"f":810,"t":20.1},{"f":816,"t":23.5},{"f":822.4,"t":25.8},{"f":826,"t":26.5},{"f":829,"t":25},{"f":831.5,"t":20},{"f":833.5,"t":10},{"f":835.5,"t":1.5},{"f":837,"t":0.5},{"f":838.5,"t":6},{"f":840,"t":20},{"f":842,"t":27},{"f":845,"t":29},{"f":853,"t":29.2},{"f":865.3,"t":29.2},{"f":871,"t":28.8},{"f":877.6,"t":27.5},{"f":884,"t":25},{"f":889.9,"t":21.3},{"f":896,"t":16.5},{"f":902,"t":11.6},{"f":906,"t":7},{"f":909,"t":4.5},{"f":911.3,"t":3.1},{"f":914,"t":1.2},{"f":916,"t":0.3},{"f":918.5,"t":2.5},{"f":921,"t":5.5},{"f":923.7,"t":7},{"f":928,"t":10},{"f":932.8,"t":11.6},{"f":937,"t":11.2},{"f":941,"t":9.5},{"f":945,"t":7},{"f":950,"t":4.3},{"f":954.3,"t":3.1},{"f":958,"t":1.8},{"f":963.5,"t":0.8},{"f":970,"t":0.3},{"f":1000,"t":0.3},
{"f":141.9,"t":97.8},{"f":142.2,"t":96.3},{"f":142.5,"t":97.8},{"f":151.2,"t":97.7},{"f":151.5,"t":96.5},{"f":151.8,"t":97.7},{"f":159.9,"t":97.2},{"f":160.2,"t":95.5},{"f":160.5,"t":97.2},
{"f":213.2,"t":95.55},{"f":213.5,"t":89.8},{"f":213.8,"t":95.55},{"f":222,"t":95.35},{"f":222.3,"t":88.7},{"f":222.6,"t":95.35},{"f":230.1,"t":95.1},{"f":230.4,"t":83.7},{"f":230.7,"t":95.1},{"f":235.4,"t":94.95},{"f":235.7,"t":79.8},{"f":236,"t":94.95},{"f":239.7,"t":94.8},{"f":240,"t":79.6},{"f":240.3,"t":94.8},{"f":245.7,"t":94.5},{"f":246,"t":79.4},{"f":246.3,"t":94.5},{"f":253.7,"t":94.1},{"f":254,"t":78.1},{"f":254.3,"t":94.1},{"f":258.1,"t":93.8},{"f":258.4,"t":82.5},{"f":258.7,"t":93.8},{"f":262.7,"t":93.5},{"f":263,"t":77.6},{"f":263.3,"t":93.5},{"f":267.7,"t":93.2},{"f":268,"t":83.9},{"f":268.3,"t":93.2},{"f":273.7,"t":92.7},{"f":274,"t":84.4},{"f":274.3,"t":92.7},{"f":280.7,"t":91.8},{"f":281,"t":81.2},{"f":281.3,"t":91.8},{"f":288.7,"t":90.6},{"f":289,"t":75.2},{"f":289.3,"t":90.6},{"f":291.7,"t":90.2},{"f":292,"t":78.5},{"f":292.3,"t":90.2},{"f":301.3,"t":88},{"f":301.6,"t":76.6},{"f":301.9,"t":88},{"f":306.7,"t":86.2},{"f":307,"t":77.4},{"f":307.3,"t":85.8},
{"f":217.2,"t":95.45},{"f":217.5,"t":88.8},{"f":217.8,"t":95.45},{"f":226.2,"t":95.2},{"f":226.5,"t":85.7},{"f":226.8,"t":95.2},{"f":232.7,"t":95},{"f":233,"t":85.5},{"f":233.3,"t":95},{"f":243.2,"t":94.65},{"f":243.5,"t":81.4},{"f":243.8,"t":94.65},{"f":251.2,"t":94.2},{"f":251.5,"t":82.9},{"f":251.8,"t":94.2},{"f":255.7,"t":93.9},{"f":256,"t":84.5},{"f":256.3,"t":93.9},{"f":260.5,"t":93.7},{"f":260.8,"t":82.5},{"f":261.1,"t":93.7},{"f":265.2,"t":93.4},{"f":265.5,"t":81.3},{"f":265.8,"t":93.4},{"f":276.7,"t":92.4},{"f":277,"t":83.2},{"f":277.3,"t":92.4},{"f":283.7,"t":91.4},{"f":284,"t":80.4},{"f":284.3,"t":91.4},{"f":294.7,"t":89.55},{"f":295,"t":78.8},{"f":295.3,"t":89.55},{"f":298.2,"t":88.8},{"f":298.5,"t":79.9},{"f":298.8,"t":88.8},
{"f":337.2,"t":82},{"f":337.5,"t":76.3},{"f":337.8,"t":82.2},{"f":343.2,"t":84.5},{"f":343.5,"t":76},{"f":343.8,"t":84.5},{"f":346.2,"t":83.8},{"f":346.5,"t":77.8},{"f":346.8,"t":83.6},{"f":351.5,"t":80.5},{"f":351.8,"t":70.7},{"f":352.1,"t":80.2},{"f":355.7,"t":76.7},{"f":356,"t":68.9},{"f":356.3,"t":76.3},{"f":361.2,"t":67.5},{"f":361.5,"t":60.3},{"f":361.8,"t":66.4},
{"f":391.2,"t":50},{"f":391.5,"t":45.9},{"f":391.8,"t":52},{"f":397.7,"t":66},{"f":398,"t":61},{"f":398.3,"t":66.6},{"f":402,"t":70.4},{"f":402.3,"t":63.4},{"f":402.6,"t":70.6},{"f":411.2,"t":71.3},{"f":411.5,"t":64.1},{"f":411.8,"t":71.1},{"f":415.7,"t":66.5},{"f":416,"t":59.4},{"f":416.3,"t":65.3},{"f":432.7,"t":55},{"f":433,"t":50.6},{"f":433.3,"t":55.5},{"f":461.2,"t":46.5},{"f":461.5,"t":42.3},{"f":461.8,"t":47.4},{"f":466.2,"t":46.8},{"f":466.5,"t":42.3},{"f":466.8,"t":45.8},{"f":480.2,"t":39},{"f":480.5,"t":35.9},{"f":480.8,"t":39.6},{"f":494.7,"t":34},{"f":495,"t":31.6},{"f":495.3,"t":34.6},
{"f":630.7,"t":21.2},{"f":631,"t":14.4},{"f":631.3,"t":21.8},{"f":637.2,"t":27},{"f":637.5,"t":11.3},{"f":637.8,"t":28},{"f":642.7,"t":31},{"f":643,"t":17.7},{"f":643.3,"t":31.2},{"f":646.7,"t":32},{"f":647,"t":13.2},{"f":647.3,"t":32.1},{"f":651.7,"t":32.7},{"f":652,"t":16},{"f":652.3,"t":32.7},{"f":656.7,"t":32.5},{"f":657,"t":9.1},{"f":657.3,"t":32.5},{"f":661.2,"t":33.5},{"f":661.5,"t":16.5},{"f":661.8,"t":33.7},{"f":665.7,"t":34.3},{"f":666,"t":19.6},{"f":666.3,"t":34.3},{"f":672.2,"t":34.1},{"f":672.5,"t":13.9},{"f":672.8,"t":34},{"f":677.7,"t":32.5},{"f":678,"t":18.5},{"f":678.3,"t":32.3},{"f":684.2,"t":30.3},{"f":684.5,"t":14.8},{"f":684.8,"t":30.1},{"f":693.7,"t":25.7},{"f":694,"t":17.1},{"f":694.3,"t":25.4},{"f":703.7,"t":18.8},{"f":704,"t":12.4},{"f":704.3,"t":18.2},
{"f":633.7,"t":24},{"f":634,"t":16.3},{"f":634.3,"t":24.6},{"f":639.7,"t":29.7},{"f":640,"t":17.1},{"f":640.3,"t":30.1},{"f":649.2,"t":32.5},{"f":649.5,"t":18.5},{"f":649.8,"t":32.5},{"f":654.2,"t":32.6},{"f":654.5,"t":13.4},{"f":654.8,"t":32.6},{"f":659.2,"t":33.1},{"f":659.5,"t":18.9},{"f":659.8,"t":33.2},{"f":663.7,"t":34},{"f":664,"t":13.9},{"f":664.3,"t":34},{"f":669.2,"t":34.6},{"f":669.5,"t":23.2},{"f":669.8,"t":34.6},{"f":674.7,"t":33.4},{"f":675,"t":16.3},{"f":675.3,"t":33.2},{"f":680.7,"t":31.6},{"f":681,"t":18},{"f":681.3,"t":31.4},{"f":687.7,"t":29},{"f":688,"t":14.1},{"f":688.3,"t":28.7},{"f":698.2,"t":23.2},{"f":698.5,"t":13.1},{"f":698.8,"t":22.8},
{"f":796.7,"t":9.6},{"f":797,"t":6.6},{"f":797.3,"t":10},{"f":802.7,"t":14.4},{"f":803,"t":7.2},{"f":803.3,"t":14.8},{"f":807.7,"t":18.8},{"f":808,"t":10.8},{"f":808.3,"t":19.2},{"f":812.2,"t":21.3},{"f":812.5,"t":8.8},{"f":812.8,"t":21.7},{"f":815.7,"t":23.4},{"f":816,"t":13.4},{"f":816.3,"t":23.6},{"f":819.7,"t":24.9},{"f":820,"t":12.3},{"f":820.3,"t":25.1},{"f":825.2,"t":26.4},{"f":825.5,"t":17.7},{"f":825.8,"t":26.4},{"f":846.2,"t":29.1},{"f":846.5,"t":14.3},{"f":846.8,"t":29.1},{"f":850.2,"t":29.2},{"f":850.5,"t":16.6},{"f":850.8,"t":29.2},{"f":854.7,"t":29.2},{"f":855,"t":12},{"f":855.3,"t":29.2},{"f":859.2,"t":29.2},{"f":859.5,"t":19.6},{"f":859.8,"t":29.2},{"f":861.7,"t":29.2},{"f":862,"t":14.3},{"f":862.3,"t":29.2},{"f":867.7,"t":29.1},{"f":868,"t":19.5},{"f":868.3,"t":29.1},{"f":873.7,"t":28.2},{"f":874,"t":13.8},{"f":874.3,"t":28.2},{"f":879.7,"t":27.1},{"f":880,"t":18.1},{"f":880.3,"t":26.9},{"f":887.7,"t":22.7},{"f":888,"t":12.8},{"f":888.3,"t":22.3},{"f":894.7,"t":17.5},{"f":895,"t":11.6},{"f":895.3,"t":17.1},{"f":933.7,"t":11.5},{"f":934,"t":8.9},{"f":934.3,"t":11.5},{"f":939.7,"t":10.1},{"f":940,"t":6.7},{"f":940.3,"t":9.9},
{"f":799.7,"t":11.8},{"f":800,"t":6.8},{"f":800.3,"t":12.2},{"f":805.2,"t":16.1},{"f":805.5,"t":10.9},{"f":805.8,"t":16.5},{"f":809.7,"t":19.9},{"f":810,"t":9.8},{"f":810.3,"t":20.2},{"f":813.7,"t":22.3},{"f":814,"t":15},{"f":814.3,"t":22.5},{"f":817.7,"t":24.2},{"f":818,"t":11.9},{"f":818.3,"t":24.4},{"f":822.2,"t":25.7},{"f":822.5,"t":14.7},{"f":822.8,"t":25.9},{"f":843.7,"t":28},{"f":844,"t":16.1},{"f":844.3,"t":28.5},{"f":848.2,"t":29.1},{"f":848.5,"t":19.5},{"f":848.8,"t":29.1},{"f":852.2,"t":29.2},{"f":852.5,"t":14.3},{"f":852.8,"t":29.2},{"f":856.7,"t":29.2},{"f":857,"t":16.6},{"f":857.3,"t":29.2},{"f":864.2,"t":29.2},{"f":864.5,"t":16.6},{"f":864.8,"t":29.2},{"f":865.7,"t":29.2},{"f":866,"t":12},{"f":866.3,"t":29.2},{"f":870.7,"t":28.8},{"f":871,"t":16.4},{"f":871.3,"t":28.8},{"f":876.7,"t":27.7},{"f":877,"t":15.7},{"f":877.3,"t":27.5},{"f":883.7,"t":25.1},{"f":884,"t":12.3},{"f":884.3,"t":24.9},{"f":891.2,"t":20.2},{"f":891.5,"t":11.4},{"f":891.8,"t":19.8},{"f":898.7,"t":14.3},{"f":899,"t":8},{"f":899.3,"t":13.7},{"f":927.7,"t":9.8},{"f":928,"t":6.7},{"f":928.3,"t":10.1},{"f":936.7,"t":11.3},{"f":937,"t":6.4},{"f":937.3,"t":11.1},{"f":943.7,"t":7.8},{"f":944,"t":4.3},{"f":944.3,"t":7.4}
],
"n20":[
{"f":29,"t":99.1},{"f":35,"t":98.6},{"f":40,"t":97.8},{"f":44,"t":96.3},{"f":47,"t":94},{"f":49,"t":91},{"f":50.5,"t":85.5},{"f":51.5,"t":75.5},{"f":52.3,"t":59.5},{"f":53,"t":39.5},{"f":53.7,"t":17.5},{"f":54.3,"t":4},{"f":55,"t":0.3},{"f":64,"t":0.3},{"f":64.7,"t":5},{"f":65.3,"t":24},{"f":66,"t":51},{"f":66.8,"t":73},{"f":68,"t":84.5},{"f":70,"t":90},{"f":73,"t":93},{"f":77,"t":95},{"f":82,"t":96.2},{"f":88,"t":96.8},{"f":95,"t":97},{"f":102,"t":96.9},{"f":107,"t":96.3},{"f":110,"t":95.3},{"f":112.5,"t":93},{"f":114.3,"t":88.5},{"f":115.5,"t":80},{"f":116.5,"t":62.5},{"f":117.3,"t":38},{"f":118,"t":11.5},{"f":118.5,"t":0.5},{"f":119.2,"t":0.5},{"f":119.8,"t":18},{"f":120.5,"t":50},{"f":121.5,"t":72},{"f":123,"t":84},{"f":125,"t":90.5},{"f":128,"t":94},{"f":132,"t":95.9},{"f":136,"t":96.5},{"f":140,"t":96.4},{"f":150.6,"t":95.2},{"f":157,"t":94},{"f":163,"t":92.3},{"f":166,"t":90},{"f":169,"t":86.6},{"f":171.5,"t":81.5},{"f":173.7,"t":75.2},{"f":175.3,"t":67},{"f":176.7,"t":55.3},{"f":178.3,"t":40},{"f":179.8,"t":25},{"f":181.2,"t":11},{"f":182.3,"t":3},{"f":183,"t":0.5},{"f":183.8,"t":3},{"f":185,"t":15},{"f":186.5,"t":40},{"f":187.4,"t":55},{"f":188.5,"t":64},{"f":190.5,"t":75},{"f":193.6,"t":83.8},{"f":197,"t":87.5},{"f":202.8,"t":89.4},{"f":208,"t":91},{"f":215,"t":91.8},{"f":222,"t":91.5},{"f":230,"t":90.8},{"f":236,"t":90.2},{"f":247,"t":89.2},{"f":258,"t":88.5},{"f":268,"t":87.8},{"f":276,"t":87.4},{"f":284,"t":85.6},{"f":292,"t":84},{"f":298,"t":82},{"f":304,"t":79.4},{"f":308.5,"t":76},{"f":313,"t":71.5},{"f":316,"t":66},{"f":319.4,"t":58},{"f":321,"t":45},{"f":322.5,"t":28},{"f":323.8,"t":12},{"f":324.8,"t":3},{"f":325.5,"t":1},{"f":326.3,"t":3},{"f":327.3,"t":12},{"f":328.6,"t":28},{"f":330,"t":45},{"f":332,"t":58},{"f":335,"t":66.5},{"f":338,"t":71.5},{"f":341,"t":73.1},{"f":344,"t":72.5},{"f":348,"t":70},{"f":353,"t":66.9},{"f":357,"t":61.5},{"f":360,"t":57},{"f":362,"t":53},{"f":364,"t":47},{"f":366,"t":38},{"f":367.5,"t":25},{"f":368.5,"t":8},{"f":369.5,"t":12},{"f":371,"t":14},{"f":372.5,"t":11},{"f":374,"t":5},{"f":375.5,"t":1},{"f":377,"t":0.3},{"f":384,"t":0.3},{"f":386,"t":2.5},{"f":388,"t":7.5},{"f":390,"t":14},{"f":393,"t":23},{"f":397,"t":35},{"f":401,"t":45},{"f":405,"t":51.5},{"f":409,"t":54.2},{"f":412.5,"t":53.5},{"f":415,"t":50},{"f":418,"t":41},{"f":420.5,"t":26},{"f":422.5,"t":10},{"f":424.5,"t":0.3},{"f":425.5,"t":0.3},{"f":427.5,"t":11},{"f":429.5,"t":24},{"f":431.5,"t":32.5},{"f":433.5,"t":35.2},{"f":436,"t":32},{"f":438.5,"t":24},{"f":441,"t":13},{"f":443,"t":5},{"f":445,"t":1},{"f":447,"t":0.2},{"f":451,"t":0.3},{"f":453,"t":2.5},{"f":455,"t":8},{"f":457.5,"t":15.5},{"f":460,"t":21},{"f":463,"t":24},{"f":466,"t":23},{"f":469,"t":18.5},{"f":471,"t":11},{"f":472.5,"t":4},{"f":474,"t":1},{"f":475.5,"t":3},{"f":477,"t":10},{"f":479,"t":15.5},{"f":481,"t":18},{"f":483,"t":15.5},{"f":485,"t":8},{"f":486.5,"t":2},{"f":487.5,"t":0.5},{"f":488.5,"t":1},{"f":490,"t":5.5},{"f":492,"t":10.5},{"f":494.5,"t":13},{"f":497,"t":13.3},{"f":500,"t":11},{"f":503,"t":8.3},{"f":506,"t":6.2},{"f":509.5,"t":4.7},{"f":514,"t":3.3},{"f":518.7,"t":2.4},{"f":524,"t":1.6},{"f":530,"t":0.9},{"f":538,"t":0.4},{"f":545,"t":0.2},{"f":590,"t":0.2},{"f":600,"t":0.6},{"f":605,"t":1.2},{"f":610,"t":1.8},{"f":613,"t":1.5},{"f":616,"t":0.8},{"f":621,"t":0.1},{"f":624,"t":0.8},{"f":626,"t":2.1},{"f":630,"t":4},{"f":635.3,"t":6.7},{"f":640,"t":8.5},{"f":644.5,"t":10},{"f":648,"t":10.7},{"f":652,"t":11.2},{"f":657,"t":11.3},{"f":662,"t":11.8},{"f":669,"t":12.6},{"f":675,"t":11.8},{"f":681,"t":10.8},{"f":687,"t":9.5},{"f":693,"t":7.6},{"f":699.5,"t":5.5},{"f":704,"t":4},{"f":709,"t":2.7},{"f":714,"t":1.5},{"f":718,"t":0.7},{"f":725,"t":0.3},{"f":790,"t":0.2},{"f":800,"t":1.2},{"f":805,"t":2.5},{"f":810,"t":4.2},{"f":816,"t":5.8},{"f":822.4,"t":7},{"f":826,"t":7.4},{"f":829,"t":7},{"f":831.5,"t":5.5},{"f":833.5,"t":2.5},{"f":835.5,"t":0.3},{"f":837,"t":0.2},{"f":838.5,"t":1.5},{"f":840,"t":5},{"f":842,"t":7.5},{"f":845,"t":8.8},{"f":853,"t":9.2},{"f":865.3,"t":9.3},{"f":871,"t":9.1},{"f":877.6,"t":8.4},{"f":884,"t":7.2},{"f":889.9,"t":5.9},{"f":896,"t":4},{"f":902,"t":2.5},{"f":907,"t":1.2},{"f":912,"t":0.3},{"f":918,"t":0.2},{"f":923,"t":0.8},{"f":928,"t":1.2},{"f":932.8,"t":1.4},{"f":938,"t":1.2},{"f":945,"t":0.6},{"f":950,"t":0.3},{"f":1000,"t":0.1},
{"f":96,"t":97},{"f":96.3,"t":95.5},{"f":96.6,"t":97},{"f":101.4,"t":96.9},{"f":101.7,"t":95.3},{"f":102,"t":96.9},{"f":110.5,"t":95.4},{"f":110.8,"t":93.5},{"f":111.1,"t":95.1},
{"f":136.7,"t":96.5},{"f":137,"t":95},{"f":137.3,"t":96.5},{"f":141.9,"t":96.4},{"f":142.2,"t":93.5},{"f":142.5,"t":96.4},{"f":151.2,"t":95.1},{"f":151.5,"t":93},{"f":151.8,"t":95.1},{"f":159.9,"t":93.1},{"f":160.2,"t":89.5},{"f":160.5,"t":92.9},
{"f":213.2,"t":91.8},{"f":213.5,"t":86.3},{"f":213.8,"t":91.8},{"f":222,"t":91.5},{"f":222.3,"t":85.1},{"f":222.6,"t":91.5},{"f":230.1,"t":90.8},{"f":230.4,"t":79.9},{"f":230.7,"t":90.8},{"f":235.4,"t":90.2},{"f":235.7,"t":75.8},{"f":236,"t":90.2},{"f":239.7,"t":89.8},{"f":240,"t":75.4},{"f":240.3,"t":89.8},{"f":245.7,"t":89.3},{"f":246,"t":75},{"f":246.3,"t":89.3},{"f":253.7,"t":88.75},{"f":254,"t":73.7},{"f":254.3,"t":88.75},{"f":258.1,"t":88.5},{"f":258.4,"t":77.9},{"f":258.7,"t":88.5},{"f":262.7,"t":88.1},{"f":263,"t":73.1},{"f":263.3,"t":88.1},{"f":267.7,"t":87.8},{"f":268,"t":79},{"f":268.3,"t":87.8},{"f":273.7,"t":87.5},{"f":274,"t":79.6},{"f":274.3,"t":87.5},{"f":280.7,"t":86.4},{"f":281,"t":76.4},{"f":281.3,"t":86.2},{"f":288.7,"t":85.1},{"f":289,"t":70.6},{"f":289.3,"t":84.9},{"f":291.7,"t":84.1},{"f":292,"t":73.1},{"f":292.3,"t":83.9},{"f":301.3,"t":80.6},{"f":301.6,"t":70},{"f":301.9,"t":80.3},{"f":306.7,"t":77.3},{"f":307,"t":69.6},{"f":307.3,"t":77},
{"f":217.2,"t":91.7},{"f":217.5,"t":85.3},{"f":217.8,"t":91.7},{"f":226.2,"t":91.4},{"f":226.5,"t":82.3},{"f":226.8,"t":91.4},{"f":232.7,"t":90.5},{"f":233,"t":81.5},{"f":233.3,"t":90.5},{"f":243.2,"t":89.5},{"f":243.5,"t":77},{"f":243.8,"t":89.5},{"f":251.2,"t":88.9},{"f":251.5,"t":78.2},{"f":251.8,"t":88.9},{"f":255.7,"t":88.6},{"f":256,"t":79.7},{"f":256.3,"t":88.6},{"f":260.5,"t":88.3},{"f":260.8,"t":77.7},{"f":261.1,"t":88.3},{"f":265.2,"t":88},{"f":265.5,"t":76.6},{"f":265.8,"t":88},{"f":276.7,"t":87.2},{"f":277,"t":78.5},{"f":277.3,"t":87.2},{"f":283.7,"t":85.7},{"f":284,"t":75.3},{"f":284.3,"t":85.5},{"f":294.7,"t":83.1},{"f":295,"t":73},{"f":295.3,"t":82.9},{"f":298.2,"t":81.9},{"f":298.5,"t":73.6},{"f":298.8,"t":81.7},
{"f":337.2,"t":70.5},{"f":337.5,"t":65.8},{"f":337.8,"t":70.9},{"f":343.2,"t":72.7},{"f":343.5,"t":65.3},{"f":343.8,"t":72.5},{"f":346.2,"t":71.2},{"f":346.5,"t":66},{"f":346.8,"t":70.9},{"f":351.5,"t":67.8},{"f":351.8,"t":59.5},{"f":352.1,"t":67.5},{"f":355.7,"t":63},{"f":356,"t":56.6},{"f":356.3,"t":62.5},{"f":361.2,"t":54.5},{"f":361.5,"t":48.6},{"f":361.8,"t":53.5},
{"f":391.2,"t":17.6},{"f":391.5,"t":16.7},{"f":391.8,"t":19.4},{"f":397.7,"t":37},{"f":398,"t":34.5},{"f":398.3,"t":38},{"f":402,"t":47},{"f":402.3,"t":42.3},{"f":402.6,"t":47.5},{"f":411.2,"t":53.8},{"f":411.5,"t":48.4},{"f":411.8,"t":53.7},{"f":415.7,"t":48.8},{"f":416,"t":42.8},{"f":416.3,"t":47},{"f":432.7,"t":34.3},{"f":433,"t":32},{"f":433.3,"t":35},{"f":461.2,"t":22},{"f":461.5,"t":20.3},{"f":461.8,"t":22.7},{"f":466.2,"t":22.8},{"f":466.5,"t":20.2},{"f":466.8,"t":21.8},{"f":480.2,"t":17.3},{"f":480.5,"t":16},{"f":480.8,"t":17.6},{"f":494.7,"t":13},{"f":495,"t":12.1},{"f":495.3,"t":13.2},
{"f":630.7,"t":4.3},{"f":631,"t":2.6},{"f":631.3,"t":4.6},{"f":637.2,"t":7.2},{"f":637.5,"t":2.1},{"f":637.8,"t":7.4},{"f":642.7,"t":9.4},{"f":643,"t":4.4},{"f":643.3,"t":9.6},{"f":646.7,"t":10.5},{"f":647,"t":3.1},{"f":647.3,"t":10.6},{"f":651.7,"t":11.2},{"f":652,"t":4.1},{"f":652.3,"t":11.2},{"f":656.7,"t":11.3},{"f":657,"t":1.9},{"f":657.3,"t":11.3},{"f":661.2,"t":11.7},{"f":661.5,"t":4.3},{"f":661.8,"t":11.8},{"f":665.7,"t":12.2},{"f":666,"t":5.6},{"f":666.3,"t":12.2},{"f":672.2,"t":12.2},{"f":672.5,"t":3.5},{"f":672.8,"t":12.2},{"f":677.7,"t":11.3},{"f":678,"t":5.2},{"f":678.3,"t":11.3},{"f":684.2,"t":10},{"f":684.5,"t":3.7},{"f":684.8,"t":10},{"f":693.7,"t":7.4},{"f":694,"t":4.2},{"f":694.3,"t":7.2},{"f":703.7,"t":4.1},{"f":704,"t":2.3},{"f":704.3,"t":3.9},
{"f":633.7,"t":5.9},{"f":634,"t":3.4},{"f":634.3,"t":6.1},{"f":639.7,"t":8.4},{"f":640,"t":3.9},{"f":640.3,"t":8.6},{"f":649.2,"t":10.9},{"f":649.5,"t":5},{"f":649.8,"t":10.9},{"f":654.2,"t":11.25},{"f":654.5,"t":3.3},{"f":654.8,"t":11.25},{"f":659.2,"t":11.5},{"f":659.5,"t":5.3},{"f":659.8,"t":11.5},{"f":663.7,"t":12},{"f":664,"t":3.5},{"f":664.3,"t":12},{"f":669.2,"t":12.5},{"f":669.5,"t":7.1},{"f":669.8,"t":12.5},{"f":674.7,"t":11.85},{"f":675,"t":4.4},{"f":675.3,"t":11.75},{"f":680.7,"t":10.85},{"f":681,"t":5},{"f":681.3,"t":10.75},{"f":687.7,"t":9.3},{"f":688,"t":3.4},{"f":688.3,"t":9.1},{"f":698.2,"t":5.9},{"f":698.5,"t":2.7},{"f":698.8,"t":5.7},
{"f":807.7,"t":3.4},{"f":808,"t":1.6},{"f":808.3,"t":3.6},{"f":812.2,"t":4.8},{"f":812.5,"t":1.4},{"f":812.8,"t":4.9},{"f":815.7,"t":5.8},{"f":816,"t":2.7},{"f":816.3,"t":5.8},{"f":819.7,"t":6.6},{"f":820,"t":2.4},{"f":820.3,"t":6.7},{"f":825.2,"t":7.3},{"f":825.5,"t":4.2},{"f":825.8,"t":7.3},{"f":846.2,"t":8.9},{"f":846.5,"t":3.3},{"f":846.8,"t":8.9},{"f":850.2,"t":9.1},{"f":850.5,"t":4.2},{"f":850.8,"t":9.1},{"f":854.7,"t":9.2},{"f":855,"t":2.7},{"f":855.3,"t":9.2},{"f":859.2,"t":9.25},{"f":859.5,"t":5.3},{"f":859.8,"t":9.25},{"f":861.7,"t":9.3},{"f":862,"t":3.4},{"f":862.3,"t":9.3},{"f":867.7,"t":9.2},{"f":868,"t":5.2},{"f":868.3,"t":9.2},{"f":873.7,"t":8.8},{"f":874,"t":3.3},{"f":874.3,"t":8.8},{"f":879.7,"t":8},{"f":880,"t":4.6},{"f":880.3,"t":8},{"f":887.7,"t":6.3},{"f":888,"t":2.9},{"f":888.3,"t":6.2},
{"f":805.2,"t":2.5},{"f":805.5,"t":1.5},{"f":805.8,"t":2.7},{"f":809.7,"t":4.1},{"f":810,"t":1.6},{"f":810.3,"t":4.3},{"f":813.7,"t":5.2},{"f":814,"t":3},{"f":814.3,"t":5.4},{"f":817.7,"t":6.1},{"f":818,"t":2.3},{"f":818.3,"t":6.3},{"f":822.2,"t":7},{"f":822.5,"t":3.2},{"f":822.8,"t":7},{"f":843.7,"t":8.3},{"f":844,"t":3.9},{"f":844.3,"t":8.5},{"f":848.2,"t":9},{"f":848.5,"t":5.1},{"f":848.8,"t":9},{"f":852.2,"t":9.2},{"f":852.5,"t":3.4},{"f":852.8,"t":9.2},{"f":856.7,"t":9.2},{"f":857,"t":4.2},{"f":857.3,"t":9.2},{"f":864.2,"t":9.3},{"f":864.5,"t":4.3},{"f":864.8,"t":9.3},{"f":865.7,"t":9.3},{"f":866,"t":2.7},{"f":866.3,"t":9.3},{"f":870.7,"t":9.1},{"f":871,"t":4.2},{"f":871.3,"t":9.1},{"f":876.7,"t":8.5},{"f":877,"t":3.9},{"f":877.3,"t":8.5},{"f":883.7,"t":7.3},{"f":884,"t":2.7},{"f":884.3,"t":7.2},{"f":891.2,"t":5.5},{"f":891.5,"t":2.5},{"f":891.8,"t":5.3},{"f":898.7,"t":3.3},{"f":899,"t":1.5},{"f":899.3,"t":3.1}
],
"n50":[
{"f":29,"t":98.8},{"f":35,"t":98.2},{"f":40,"t":97.2},{"f":44,"t":95.6},{"f":47,"t":93.2},{"f":49,"t":90.2},{"f":50.5,"t":84.5},{"f":51.5,"t":74},{"f":52.3,"t":58},{"f":53,"t":38},{"f":53.7,"t":16},{"f":54.3,"t":3.5},{"f":55,"t":0.2},{"f":64,"t":0.2},{"f":64.7,"t":4},{"f":65.3,"t":22},{"f":66,"t":48},{"f":66.8,"t":70},{"f":68,"t":81.5},{"f":70,"t":87},{"f":73,"t":90.5},{"f":77,"t":93},{"f":82,"t":94.5},{"f":88,"t":95.2},{"f":95,"t":95.4},{"f":102,"t":95.2},{"f":107,"t":94.3},{"f":110,"t":93},{"f":112.5,"t":90.5},{"f":114.3,"t":86},{"f":115.5,"t":78},{"f":116.5,"t":60},{"f":117.3,"t":36},{"f":118,"t":10},{"f":118.5,"t":0.3},{"f":119.5,"t":0.3},{"f":120.3,"t":12},{"f":121,"t":35},{"f":122,"t":58},{"f":123,"t":74},{"f":125,"t":85},{"f":128,"t":90},{"f":132,"t":92.3},{"f":136,"t":92},{"f":141.4,"t":91.4},{"f":146,"t":90.8},{"f":150.6,"t":90},{"f":155,"t":88.5},{"f":160,"t":86.6},{"f":163,"t":84.5},{"f":166,"t":82},{"f":169,"t":77.5},{"f":172,"t":72.4},{"f":173.7,"t":67.5},{"f":175.2,"t":61},{"f":176.7,"t":50},{"f":178.3,"t":37},{"f":179.8,"t":21},{"f":181.2,"t":8},{"f":182.3,"t":1.5},{"f":183,"t":0.2},{"f":183.8,"t":1.5},{"f":185,"t":8},{"f":186.5,"t":21},{"f":188,"t":36},{"f":189,"t":45},{"f":190.5,"t":53},{"f":193,"t":63},{"f":196.6,"t":69.5},{"f":199,"t":73.5},{"f":202.8,"t":76.9},{"f":207,"t":79.5},{"f":212,"t":80.8},{"f":216,"t":80.5},{"f":224,"t":80},{"f":230,"t":79},{"f":236,"t":77.7},{"f":244,"t":77},{"f":252,"t":76.3},{"f":260,"t":75},{"f":267,"t":72},{"f":275,"t":70.5},{"f":283,"t":69.2},{"f":290,"t":66},{"f":298,"t":64},{"f":303,"t":61},{"f":307,"t":58.2},{"f":312,"t":54.5},{"f":316,"t":49.7},{"f":318.5,"t":40},{"f":320.7,"t":26.8},{"f":322.5,"t":14},{"f":323.8,"t":4},{"f":324.8,"t":0.5},{"f":325.8,"t":0.5},{"f":326.6,"t":2},{"f":327.4,"t":4},{"f":329,"t":15},{"f":330.4,"t":26.8},{"f":332.5,"t":36},{"f":335,"t":41.7},{"f":338,"t":44.5},{"f":341,"t":45.7},{"f":344,"t":44.5},{"f":348,"t":41},{"f":353,"t":35.4},{"f":357,"t":29},{"f":360,"t":24},{"f":362,"t":21.1},{"f":364,"t":15.5},{"f":366,"t":9},{"f":367.5,"t":3},{"f":368.5,"t":0.6},{"f":370,"t":0.2},{"f":393,"t":0.3},{"f":396,"t":3},{"f":399,"t":8},{"f":402,"t":13},{"f":405,"t":17.5},{"f":408,"t":20.8},{"f":410.5,"t":21.8},{"f":413,"t":21},{"f":416,"t":17},{"f":419,"t":10},{"f":421.5,"t":4},{"f":423.5,"t":0.5},{"f":426,"t":0.3},{"f":428.5,"t":4},{"f":430,"t":8},{"f":431.5,"t":9.8},{"f":433,"t":9.2},{"f":435,"t":6.5},{"f":437.5,"t":3},{"f":440,"t":0.8},{"f":443,"t":0.2},{"f":456,"t":0.3},{"f":459,"t":1.5},{"f":461,"t":2.5},{"f":463,"t":2.8},{"f":465,"t":2.5},{"f":468,"t":1.2},{"f":471,"t":0.3},{"f":476,"t":0.3},{"f":479,"t":1},{"f":481,"t":1.6},{"f":483,"t":1.2},{"f":486,"t":0.3},{"f":492,"t":0.3},{"f":494.5,"t":0.7},{"f":497,"t":0.9},{"f":500,"t":0.6},{"f":505,"t":0.3},{"f":515,"t":0.1},{"f":640,"t":0.1},{"f":655,"t":0.4},{"f":670,"t":0.5},{"f":690,"t":0.3},{"f":710,"t":0.1},{"f":830,"t":0.1},{"f":870,"t":0.3},{"f":900,"t":0.1},{"f":1000,"t":0.1},
{"f":94.2,"t":95.4},{"f":94.5,"t":93.6},{"f":94.8,"t":95.4},{"f":103.7,"t":95},{"f":104,"t":93.2},{"f":104.3,"t":95},{"f":110.5,"t":93.1},{"f":110.8,"t":91},{"f":111.1,"t":92.8},
{"f":136.7,"t":92},{"f":137,"t":88.5},{"f":137.3,"t":92},{"f":141.9,"t":91.4},{"f":142.2,"t":85.5},{"f":142.5,"t":91.3},{"f":151.2,"t":89.8},{"f":151.5,"t":85.7},{"f":151.8,"t":89.7},{"f":159.9,"t":86.7},{"f":160.2,"t":78.5},{"f":160.5,"t":86.5},
{"f":213.2,"t":80.8},{"f":213.5,"t":76},{"f":213.8,"t":80.8},{"f":222,"t":80.1},{"f":222.3,"t":74.5},{"f":222.6,"t":80.1},{"f":230.1,"t":79},{"f":230.4,"t":69.5},{"f":230.7,"t":78.9},{"f":235.4,"t":77.8},{"f":235.7,"t":65.3},{"f":236,"t":77.7},{"f":239.7,"t":77.4},{"f":240,"t":65},{"f":240.3,"t":77.4},{"f":245.7,"t":76.8},{"f":246,"t":64.5},{"f":246.3,"t":76.8},{"f":253.7,"t":76},{"f":254,"t":63.1},{"f":254.3,"t":76},{"f":258.1,"t":75.6},{"f":258.4,"t":66.5},{"f":258.7,"t":75.5},{"f":262.7,"t":74.2},{"f":263,"t":61.4},{"f":263.3,"t":73.9},{"f":267.7,"t":71.8},{"f":268,"t":64.6},{"f":268.3,"t":71.8},{"f":273.7,"t":70.7},{"f":274,"t":64.3},{"f":274.3,"t":70.7},{"f":280.7,"t":69.6},{"f":281,"t":61.5},{"f":281.3,"t":69.5},{"f":288.7,"t":66.6},{"f":289,"t":55.2},{"f":289.3,"t":66.4},{"f":291.7,"t":66.1},{"f":292,"t":57},{"f":292.3,"t":65.9},{"f":301.3,"t":62},{"f":301.6,"t":53.9},{"f":301.9,"t":61.8},{"f":306.7,"t":58.4},{"f":307,"t":52.4},{"f":307.3,"t":58},
{"f":217.2,"t":80.4},{"f":217.5,"t":74.8},{"f":217.8,"t":80.4},{"f":226.2,"t":79.6},{"f":226.5,"t":71.6},{"f":226.8,"t":79.6},{"f":232.7,"t":78.3},{"f":233,"t":70.5},{"f":233.3,"t":78.3},{"f":243.2,"t":77},{"f":243.5,"t":66.2},{"f":243.8,"t":77},{"f":251.2,"t":76.3},{"f":251.5,"t":67.1},{"f":251.8,"t":76.3},{"f":255.7,"t":75.6},{"f":256,"t":68},{"f":256.3,"t":75.6},{"f":260.5,"t":74.8},{"f":260.8,"t":65.7},{"f":261.1,"t":74.6},{"f":265.2,"t":72.7},{"f":265.5,"t":63.2},{"f":265.8,"t":72.4},{"f":276.7,"t":70.2},{"f":277,"t":63.2},{"f":277.3,"t":70.1},{"f":283.7,"t":68.9},{"f":284,"t":60.5},{"f":284.3,"t":68.6},{"f":294.7,"t":64.8},{"f":295,"t":57},{"f":295.3,"t":64.7},{"f":298.2,"t":63.8},{"f":298.5,"t":57.3},{"f":298.8,"t":63.5},
{"f":337.2,"t":44.2},{"f":337.5,"t":41.2},{"f":337.8,"t":44.4},{"f":343.2,"t":44.8},{"f":343.5,"t":40.2},{"f":343.8,"t":44.6},{"f":346.2,"t":42.7},{"f":346.5,"t":39.4},{"f":346.8,"t":42.2},{"f":351.5,"t":37.3},{"f":351.8,"t":32.4},{"f":352.1,"t":36.8},{"f":355.7,"t":31},{"f":356,"t":27.5},{"f":356.3,"t":30.3},
{"f":404.2,"t":16.4},{"f":404.5,"t":11.5},{"f":404.8,"t":17},{"f":415.2,"t":18.2},{"f":415.5,"t":10.5},{"f":415.8,"t":17.3}
]
},
"layer":[
{"data":{"name":"n03"},"mark":{"type":"line","strokeWidth":2.2,"clip":true},
 "encoding":{
  "x":{"field":"f","type":"quantitative","scale":{"domain":[29,1000],"nice":false,"zero":false},
   "axis":{"orient":"bottom","values":[100,200,300,400,500,600,700,800,900,1000],"format":"d","grid":true,"gridColor":"#dedede","gridWidth":1.3,"tickSize":-7,"tickColor":"#262626","tickWidth":1,"domain":false,"labelFont":"Liberation Serif","labelFontSize":19,"labelColor":"#262626","labelPadding":14,"labelFlush":false,"title":"Frequency (GHz)","titleFont":"Liberation Serif","titleFontSize":20,"titleFontWeight":"normal","titleColor":"#262626","titlePadding":9}},
  "y":{"field":"t","type":"quantitative","scale":{"domain":[0,100],"nice":false,"zero":false},
   "axis":{"orient":"left","values":[0,10,20,30,40,50,60,70,80,90,100],"format":"d","grid":true,"gridColor":"#dedede","gridWidth":1.3,"tickSize":-7,"tickColor":"#262626","tickWidth":1,"domain":false,"labelFont":"Liberation Serif","labelFontSize":19,"labelColor":"#262626","labelPadding":15,"labelFlush":false,"title":"Transmission (%)","titleFont":"Liberation Serif","titleFontSize":20,"titleFontWeight":"normal","titleColor":"#262626","titlePadding":12}},
  "color":{"datum":"PWV 0.3 mm","type":"nominal","title":null,"scale":{"domain":["PWV 0.3 mm","PWV 0.5 mm","PWV 1.0 mm","PWV 2.0 mm","PWV 5.0 mm","1","2","3","4","5","6","7","8","9","10"],"range":["#352a87","#1a72e0","#16afcc","#7cc47c","#f0b43c","#352a87","#0f5cdd","#0a7dd2","#0596c8","#14aaaa","#50b482","#a0b96e","#d7aa4b","#f5c328","#f9fa14"]},
   "legend":{"title":null,"values":["PWV 0.3 mm","PWV 0.5 mm","PWV 1.0 mm","PWV 2.0 mm","PWV 5.0 mm"],"orient":"none","legendX":862,"legendY":9,"symbolType":"M-2.2,0H2.2","symbolSize":450,"symbolStrokeWidth":3,"symbolOffset":13,"labelOffset":17,"labelFont":"Liberation Serif","labelFontSize":18,"labelColor":"black","fillColor":"white","strokeColor":"#262626","padding":7,"rowPadding":2}}}},
{"data":{"name":"n05"},"mark":{"type":"line","strokeWidth":2.2,"clip":true},
 "encoding":{"x":{"field":"f","type":"quantitative","axis":null},"y":{"field":"t","type":"quantitative","axis":null},"color":{"datum":"PWV 0.5 mm","type":"nominal","title":null}}},
{"data":{"name":"n10"},"mark":{"type":"line","strokeWidth":2.2,"clip":true},
 "encoding":{"x":{"field":"f","type":"quantitative","axis":null},"y":{"field":"t","type":"quantitative","axis":null},"color":{"datum":"PWV 1.0 mm","type":"nominal","title":null}}},
{"data":{"name":"n20"},"mark":{"type":"line","strokeWidth":2.2,"clip":true},
 "encoding":{"x":{"field":"f","type":"quantitative","axis":null},"y":{"field":"t","type":"quantitative","axis":null},"color":{"datum":"PWV 2.0 mm","type":"nominal","title":null}}},
{"data":{"name":"n50"},"mark":{"type":"line","strokeWidth":2.2,"clip":true},
 "encoding":{"x":{"field":"f","type":"quantitative","axis":null},"y":{"field":"t","type":"quantitative","axis":null},"color":{"datum":"PWV 5.0 mm","type":"nominal","title":null}}},
{"data":{"name":"bands"},"mark":{"type":"rect","fillOpacity":0.25,"stroke":"#222222","strokeWidth":1,"strokeOpacity":0.85},
 "encoding":{
  "x":{"field":"lo","type":"quantitative","axis":{"orient":"top","values":[100,200,300,400,500,600,700,800,900,1000],"grid":false,"labels":false,"tickSize":-7,"tickColor":"#262626","domain":false,"title":null}},
  "x2":{"field":"hi"},
  "y":{"datum":0,"type":"quantitative","axis":{"orient":"right","values":[0,10,20,30,40,50,60,70,80,90,100],"grid":false,"labels":false,"tickSize":-7,"tickColor":"#262626","domain":false,"title":null}},
  "y2":{"datum":100},
  "color":{"field":"b","type":"nominal","title":null}}}
],
"resolve":{"axis":{"x":"independent","y":"independent"}}
}
